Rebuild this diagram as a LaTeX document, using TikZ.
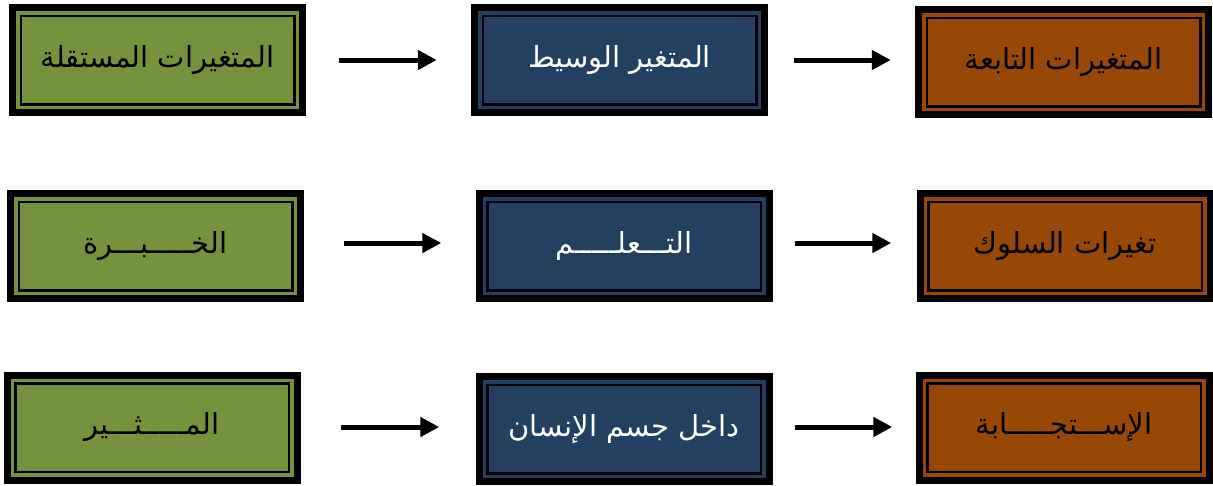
\documentclass[tikz,border=0pt]{standalone}
\usepackage{fontspec}
\usetikzlibrary{arrows.meta}
\TeXXeTstate=1
\newfontfamily\arabicfont[Script=Arabic]{DejaVu Sans}
\definecolor{olivegreen}{HTML}{76923C}
\definecolor{darkblue}{HTML}{243F60}
\definecolor{rustbrown}{HTML}{974806}
\tikzset{
  framebox/.style={rectangle, fill=#1, draw=black, line width=2.5pt,
    minimum width=273.5pt, minimum height=88.5pt, inner sep=0pt,
    preaction={draw=black, line width=23.5pt},
    preaction={draw=#1, line width=9.5pt},
    font=\arabicfont\fontsize{29}{34}\selectfont},
  greenbox/.style={framebox=olivegreen, text=black},
  bluebox/.style={framebox=darkblue, text=white},
  brownbox/.style={framebox=rustbrown, text=black},
  arr/.style={line width=5pt, -{Triangle[length=19pt,width=19pt]}}
}
\begin{document}
\begin{tikzpicture}[x=1pt,y=-1pt]
\useasboundingbox (0,0) rectangle (1213,485);
% row 1
\node[greenbox] (A) at (157.5,60) {\beginR المتغيرات المستقلة\endR};
\node[bluebox]  (B) at (619.5,60) {\beginR المتغير الوسيط\endR};
\node[brownbox] (C) at (1063.5,62) {\beginR المتغيرات التابعة\endR};
% row 2
\node[greenbox] (D) at (155.5,246) {\beginR الخـــــبـــرة\endR};
\node[bluebox]  (E) at (624,246) {\beginR التـــعلـــــم\endR};
\node[brownbox] (F) at (1065,246) {\beginR تغيرات السلوك\endR};
% row 3
\node[greenbox] (G) at (152,427.5) {\beginR المـــــثـــير\endR};
\node[bluebox]  (H) at (624,429) {\beginR داخل جسم الإنسان\endR};
\node[brownbox] (I) at (1064,427.5) {\beginR الإســـتجـــــابة\endR};
% arrows
\draw[arr] ([xshift=43.75pt]A.east) -- ([xshift=-44.75pt]B.west);
\draw[arr] ([xshift=36.25pt]B.east) -- ([xshift=-34.75pt,yshift=2pt]C.west);
\draw[arr] ([xshift=50.25pt,yshift=3pt]D.east) -- ([xshift=-44.75pt,yshift=3pt]E.west);
\draw[arr] ([xshift=32.75pt,yshift=3pt]E.east) -- ([xshift=-35.75pt,yshift=3pt]F.west);
\draw[arr] ([xshift=50.75pt,yshift=0.5pt]G.east) -- ([xshift=-46.75pt,yshift=2pt]H.west);
\draw[arr] ([xshift=32.75pt,yshift=2pt]H.east) -- ([xshift=-33.75pt,yshift=0.5pt]I.west);
\end{tikzpicture}
\end{document}
